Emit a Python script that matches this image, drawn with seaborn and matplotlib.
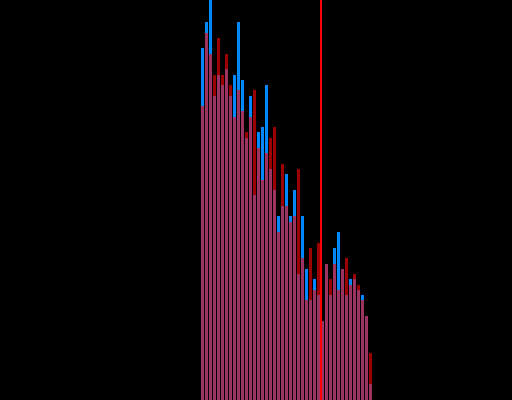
import numpy as np
import pandas as pd
import matplotlib
matplotlib.use('Agg')
import matplotlib.pyplot as plt
import seaborn as sns

# counts per bin
n_bins = 43
blue_counts = [67, 72, 77, 58, 62, 60, 63, 58, 62, 72, 61, 50, 58, 39, 51, 52, 60, 44, 40, 35, 37, 43,
               35, 40, 24, 35, 25, 19, 23, 20, 15, 26, 20, 29, 32, 25, 20, 23, 23, 21, 20, 16, 3]
red_counts = [56, 70, 66, 62, 69, 62, 66, 60, 54, 59, 55, 51, 54, 59, 48, 42, 47, 50, 52, 32, 45, 37,
              34, 35, 44, 27, 19, 29, 21, 30, 15, 26, 23, 26, 21, 25, 27, 22, 24, 22, 19, 16, 9]
threshold = 30.1

edges = list(range(n_bins + 1))
df = pd.DataFrame({'x': np.arange(n_bins) + 0.5, 'blue': blue_counts, 'red': red_counts})

fig = plt.figure(figsize=(5.12, 4), dpi=100, facecolor='black')
ax = fig.add_axes([0, 0, 1, 1])
ax.set_facecolor('black')

sns.histplot(data=df, x='x', weights='blue', bins=edges, shrink=0.75, color='#0088ff',
             alpha=1.0, linewidth=0, ax=ax)
sns.histplot(data=df, x='x', weights='red', bins=edges, shrink=0.75, color='#ff0000',
             alpha=0.62, linewidth=0, ax=ax)
ax.axvline(threshold, color='#ff0000', linewidth=1.44)

ax.set_xlim(-50.125, 77.875)
ax.set_ylim(0, 76.2)
ax.axis('off')

fig.savefig('out.png', dpi=100, facecolor='black')
